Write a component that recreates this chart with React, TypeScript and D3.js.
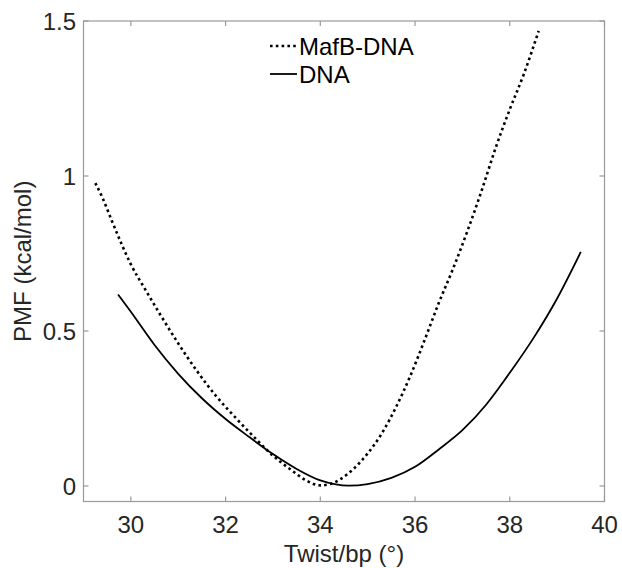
import React from "react";
import * as d3 from "d3";

const xTicks = [30, 32, 34, 36, 38, 40];
const yTicks = [0, 0.5, 1, 1.5];
const yTickLabels = ["0", "0.5", "1", "1.5"];

const mafbX = [29.25, 29.4, 29.6, 29.8, 30.0, 30.3, 30.6, 31.0, 31.4, 31.8, 32.2, 32.6, 33.0, 33.4, 33.7, 34.0, 34.2, 34.4, 34.7, 35.0, 35.3, 35.6, 35.9, 36.2, 36.5, 36.8, 37.1, 37.4, 37.7, 38.0, 38.3, 38.61];
const mafbY = [0.977, 0.93, 0.855, 0.782, 0.715, 0.635, 0.558, 0.46, 0.37, 0.29, 0.222, 0.158, 0.098, 0.05, 0.018, 0.002, 0.006, 0.02, 0.055, 0.105, 0.17, 0.255, 0.355, 0.47, 0.59, 0.7, 0.82, 0.95, 1.09, 1.215, 1.33, 1.468];

const dnaX = [29.73, 30.0, 30.5, 31.0, 31.5, 32.0, 32.5, 33.0, 33.5, 34.0, 34.3, 34.6, 35.0, 35.5, 36.0, 36.5, 37.0, 37.5, 37.75, 38.0, 38.5, 39.0, 39.5];
const dnaY = [0.618, 0.562, 0.455, 0.362, 0.283, 0.216, 0.158, 0.103, 0.055, 0.018, 0.006, 0.001, 0.006, 0.026, 0.062, 0.118, 0.18, 0.262, 0.312, 0.365, 0.477, 0.605, 0.755];

const legendLabels = ["MafB-DNA", "DNA"];

const W = 622;
const H = 568;
const left = 83.5;
const right = 604.5;
const top = 21;
const bottom = 501.5;

export default function App() {
  const x = d3.scaleLinear().domain([29, 40]).range([left, right]);
  const y = d3.scaleLinear().domain([-0.05, 1.5]).range([bottom, top]);
  const line = d3
    .line<[number, number]>()
    .x((d) => x(d[0]))
    .y((d) => y(d[1]))
    .curve(d3.curveMonotoneX);
  const mafb = mafbX.map((v, i) => [v, mafbY[i]] as [number, number]);
  const dna = dnaX.map((v, i) => [v, dnaY[i]] as [number, number]);
  const axisColor = "#9a9a9a";
  const textColor = "#262626";
  const font = "'Liberation Sans', Arial, Helvetica, sans-serif";
  const tickLen = 5;
  const fs = 24;

  return (
    <svg
      width={W}
      height={H}
      style={{ position: "absolute", left: 0, top: 0, background: "#fff" }}
      fontFamily={font}
    >
      <rect x={0} y={0} width={W} height={H} fill="#fff" />
      <path
        d={line(mafb) || ""}
        fill="none"
        stroke="#000"
        strokeWidth={2.6}
        strokeDasharray="2.6 3.2"
      />
      <path d={line(dna) || ""} fill="none" stroke="#000" strokeWidth={1.8} />
      <rect
        x={left}
        y={top}
        width={right - left}
        height={bottom - top}
        fill="none"
        stroke={axisColor}
        strokeWidth={1.2}
      />
      {xTicks.map((t) => (
        <g key={"x" + t}>
          <line x1={x(t)} x2={x(t)} y1={bottom} y2={bottom - tickLen} stroke={axisColor} strokeWidth={1.2} />
          <line x1={x(t)} x2={x(t)} y1={top} y2={top + tickLen} stroke={axisColor} strokeWidth={1.2} />
          <text x={x(t)} y={533} textAnchor="middle" fontSize={fs} fill={textColor}>
            {t}
          </text>
        </g>
      ))}
      {yTicks.map((t, i) => (
        <g key={"y" + t}>
          <line x1={left} x2={left + tickLen} y1={y(t)} y2={y(t)} stroke={axisColor} strokeWidth={1.2} />
          <line x1={right} x2={right - tickLen} y1={y(t)} y2={y(t)} stroke={axisColor} strokeWidth={1.2} />
          <text x={76} y={y(t) + 8.6} textAnchor="end" fontSize={fs} fill={textColor}>
            {yTickLabels[i]}
          </text>
        </g>
      ))}
      <text x={(left + right) / 2} y={561.5} textAnchor="middle" fontSize={fs} fill={textColor}>
        Twist/bp (°)
      </text>
      <text
        transform={`translate(31, ${(top + bottom) / 2}) rotate(-90)`}
        textAnchor="middle"
        fontSize={fs}
        fill={textColor}
      >
        PMF (kcal/mol)
      </text>
      <line x1={270} x2={297} y1={46} y2={46} stroke="#000" strokeWidth={2.6} strokeDasharray="2.6 3.2" />
      <text x={299} y={54.6} fontSize={fs} fill="#000">
        {legendLabels[0]}
      </text>
      <line x1={270} x2={297} y1={74} y2={74} stroke="#000" strokeWidth={1.8} />
      <text x={299} y={82.6} fontSize={fs} fill="#000">
        {legendLabels[1]}
      </text>
    </svg>
  );
}
